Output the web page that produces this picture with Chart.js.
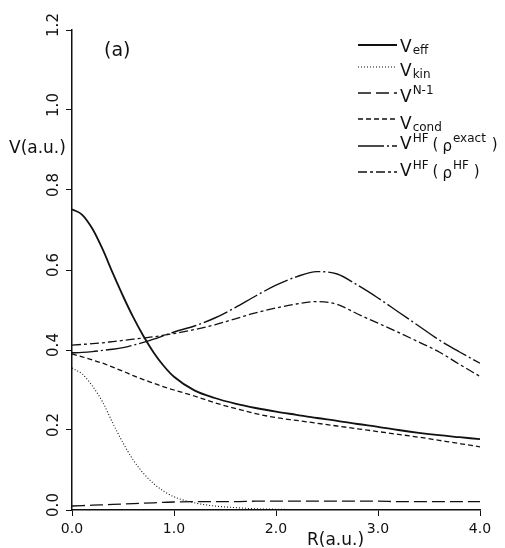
<!DOCTYPE html>
<html>
<head>
<meta charset="utf-8">
<script src="https://cdn.jsdelivr.net/npm/chart.js@4.4.1/dist/chart.umd.min.js"></script>
<style>
  html, body { margin: 0; padding: 0; background: #fff; }
  #wrap { width: 505px; height: 548px; }
</style>
</head>
<body>
<div id="wrap"><canvas id="chart" width="505" height="548"></canvas></div>
<script>
// R grid (a.u.)
const rValues = [0, 0.1, 0.2, 0.3, 0.4, 0.5, 0.6, 0.7, 0.8, 0.9, 1.0,
  1.2, 1.4, 1.6, 1.8, 2.0, 2.2, 2.4, 2.6, 2.8, 3.0, 3.2, 3.4, 3.6, 3.8, 4.0];

const vEff = [0.752, 0.738, 0.703, 0.652, 0.592, 0.535, 0.482, 0.435, 0.394, 0.360, 0.333,
  0.299, 0.280, 0.266, 0.255, 0.246, 0.238, 0.230, 0.223, 0.215, 0.208, 0.200, 0.193, 0.187, 0.182, 0.177];
const vKin = [0.355, 0.340, 0.310, 0.270, 0.217, 0.168, 0.125, 0.092, 0.066, 0.047, 0.033,
  0.018, 0.010, 0.006, 0.003, 0.002, 0.001, 0.001, 0, 0, 0, 0, 0, 0, 0, 0];
const vN1 = [0.010, 0.011, 0.012, 0.013, 0.014, 0.015, 0.016, 0.017, 0.018, 0.019, 0.020,
  0.021, 0.021, 0.021, 0.022, 0.022, 0.022, 0.022, 0.022, 0.022, 0.022, 0.021, 0.021, 0.021, 0.021, 0.021];
const vCond = [0.390, 0.383, 0.375, 0.367, 0.357, 0.347, 0.336, 0.326, 0.317, 0.308, 0.300,
  0.285, 0.268, 0.254, 0.241, 0.231, 0.224, 0.217, 0.210, 0.203, 0.196, 0.189, 0.182, 0.174, 0.166, 0.158];
const vHfExact = [0.393, 0.394, 0.396, 0.399, 0.402, 0.406, 0.412, 0.419, 0.427, 0.436, 0.445,
  0.460, 0.480, 0.506, 0.535, 0.562, 0.583, 0.596, 0.590, 0.562, 0.530, 0.495, 0.460, 0.425, 0.395, 0.367];
const vHfHf = [0.412, 0.414, 0.416, 0.418, 0.421, 0.424, 0.427, 0.430, 0.433, 0.437, 0.441,
  0.451, 0.463, 0.478, 0.493, 0.505, 0.515, 0.521, 0.514, 0.490, 0.467, 0.444, 0.420, 0.395, 0.364, 0.334];

const xTicks = [0, 1, 2, 3, 4];
const yTicks = [0, 0.2, 0.4, 0.6, 0.8, 1.0, 1.2];

const FONT = '"DejaVu Sans", sans-serif';
const INK = '#111';

function pts(vals) {
  return vals.map((v, i) => ({ x: rValues[i], y: v }));
}

function line(vals, dash, width) {
  return {
    data: pts(vals),
    borderColor: INK,
    borderWidth: width,
    borderDash: dash,
    pointRadius: 0,
    fill: false,
    cubicInterpolationMode: 'monotone',
  };
}

// legend rows: pieces of rich text (size, vertical shift, gap before)
const legendRows = [
  [{ t: 'V', s: 17 }, { t: 'eff', s: 12, dy: 2, g: 1 }],
  [{ t: 'V', s: 17 }, { t: 'kin', s: 12, dy: 2, g: 1 }],
  [{ t: 'V', s: 17 }, { t: 'N-1', s: 12, dy: -8, g: 1 }],
  [{ t: 'V', s: 17 }, { t: 'cond', s: 12, dy: 2, g: 1 }],
  [{ t: 'V', s: 17 }, { t: 'HF', s: 12, dy: -7, g: 1 }, { t: '(', s: 15, g: 4 },
   { t: 'ρ', s: 15, dy: 2, g: 4 }, { t: 'exact', s: 12, dy: -7, g: 1 }, { t: ')', s: 15, g: 6 }],
  [{ t: 'V', s: 17 }, { t: 'HF', s: 12, dy: -7, g: 1 }, { t: '(', s: 15, g: 4 },
   { t: 'ρ', s: 15, dy: 2, g: 4 }, { t: 'HF', s: 12, dy: -7, g: 1 }, { t: ')', s: 15, g: 5 }],
];
const legendLineY = [45, 67, 93, 119, 146, 172];
const legendTextY = [52, 76, 102, 129, 149, 176];

function drawRich(ctx, x, y, parts) {
  for (const p of parts) {
    ctx.font = p.s + 'px ' + FONT;
    x += p.g || 0;
    ctx.fillText(p.t, x, y + (p.dy || 0));
    x += ctx.measureText(p.t).width;
  }
}

const decorations = {
  id: 'decorations',
  afterDraw(chart) {
    const ctx = chart.ctx;
    const y = chart.scales.y;
    ctx.save();
    ctx.fillStyle = INK;

    // rotated y tick labels
    ctx.font = '15px ' + FONT;
    ctx.textAlign = 'center';
    ctx.textBaseline = 'middle';
    yTicks.forEach(v => {
      const py = y.getPixelForValue(v) - 5;
      ctx.save();
      ctx.translate(54, py);
      ctx.rotate(-Math.PI / 2);
      ctx.fillText(v.toFixed(1), 0, 0);
      ctx.restore();
    });

    // axis titles and panel tag
    ctx.textAlign = 'left';
    ctx.textBaseline = 'alphabetic';
    ctx.font = '17px ' + FONT;
    ctx.fillText('V(a.u.)', 9, 153);
    ctx.fillText('R(a.u.)', 307, 545);
    ctx.font = '19px ' + FONT;
    ctx.fillText('(a)', 104, 56);

    // legend
    chart.data.datasets.forEach((ds, i) => {
      ctx.save();
      ctx.strokeStyle = INK;
      ctx.lineWidth = ds.borderWidth;
      ctx.setLineDash(ds.borderDash || []);
      ctx.beginPath();
      ctx.moveTo(358, legendLineY[i]);
      ctx.lineTo(397, legendLineY[i]);
      ctx.stroke();
      ctx.restore();
      drawRich(ctx, 400, legendTextY[i], legendRows[i]);
    });
    ctx.restore();
  }
};

new Chart(document.getElementById('chart'), {
  type: 'line',
  data: {
    datasets: [
      line(vEff, [], 1.8),
      line(vKin, [1, 2], 1.1),
      line(vN1, [13, 5], 1.3),
      line(vCond, [5, 3], 1.3),
      line(vHfExact, [26, 3, 2, 3], 1.4),
      line(vHfHf, [9, 3, 3, 3], 1.3),
    ]
  },
  options: {
    responsive: false,
    animation: false,
    layout: { padding: { top: 30, right: 25, left: 0, bottom: 0 } },
    plugins: { legend: { display: false }, tooltip: { enabled: false } },
    scales: {
      x: {
        type: 'linear',
        min: 0,
        max: 4,
        afterBuildTicks: s => { s.ticks = xTicks.map(v => ({ value: v })); },
        afterFit: s => { s.height = 38; },
        ticks: {
          color: INK,
          font: { family: FONT, size: 14 },
          padding: 5,
          maxRotation: 0,
          callback: v => v.toFixed(1),
        },
        grid: { drawOnChartArea: false, drawTicks: true, tickLength: 6, color: INK, lineWidth: 1 },
        border: { color: INK, width: 1.5 },
      },
      y: {
        min: 0,
        max: 1.2,
        afterBuildTicks: s => { s.ticks = yTicks.map(v => ({ value: v })); },
        afterFit: s => { s.width = 72; },
        ticks: { display: false },
        grid: { drawOnChartArea: false, drawTicks: true, tickLength: 6, color: INK, lineWidth: 1 },
        border: { color: INK, width: 1.5 },
      }
    }
  },
  plugins: [decorations]
});
</script>
</body>
</html>
